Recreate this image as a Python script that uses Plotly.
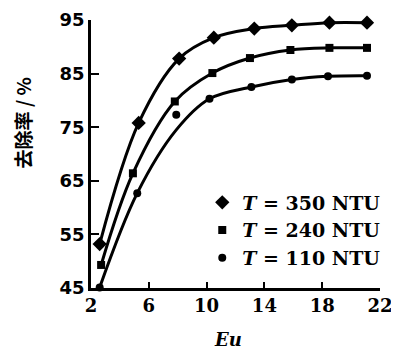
import plotly.graph_objects as go

# Data
eu_350 = [2.6, 5.3, 8.1, 10.5, 13.3, 15.9, 18.5, 21.1]
r_350 = [53.2, 75.8, 87.8, 91.7, 93.4, 94.0, 94.5, 94.5]

eu_240 = [2.7, 4.9, 7.8, 10.4, 13.0, 15.8, 18.5, 21.1]
r_240 = [49.3, 66.4, 79.8, 85.1, 87.9, 89.4, 89.8, 89.8]

eu_110 = [2.6, 5.2, 7.9, 10.2, 13.1, 15.9, 18.4, 21.1]
r_110 = [45.1, 62.7, 77.3, 80.3, 82.5, 83.9, 84.5, 84.6]
# fitted curve for the 110 NTU series (passes below the 7.9 point)
curve_110 = [45.1, 62.7, 74.5, 80.3, 82.5, 83.9, 84.5, 84.6]

x_ticks = [2, 6, 10, 14, 18, 22]
y_ticks = [45, 55, 65, 75, 85, 95]

labels = ["<i>T</i> = 350 NTU", "<i>T</i> = 240 NTU", "<i>T</i> = 110 NTU"]

fig = go.Figure()

line_style = dict(color="black", width=3, shape="spline", smoothing=1.0)

# curves
for xs, ys in [(eu_350, r_350), (eu_240, r_240), (eu_110, curve_110)]:
    fig.add_trace(go.Scatter(x=xs, y=ys, mode="lines", line=line_style,
                             showlegend=False, hoverinfo="skip", cliponaxis=False))

# markers
for xs, ys, sym, size, name, grp in [
    (eu_350, r_350, "diamond", 11, labels[0], "a"),
    (eu_240, r_240, "square", 8, labels[1], "b"),
    (eu_110, r_110, "circle", 8, labels[2], "c"),
]:
    fig.add_trace(go.Scatter(x=xs, y=ys, mode="markers", name=name, legendgroup=grp,
                             marker=dict(symbol=sym, size=size, color="black"),
                             cliponaxis=False))

# page body has an 8px margin, so the figure is 8px smaller and offsets reduced
fig.update_layout(
    width=391, height=344,
    margin=dict(l=83, r=19, t=12, b=64, autoexpand=False),
    paper_bgcolor="white", plot_bgcolor="white",
    showlegend=True,
    legend=dict(x=0.385, y=0.39, xanchor="left", yanchor="top",
                bgcolor="rgba(0,0,0,0)", tracegroupgap=0,
                font=dict(family="DejaVu Serif", size=19, color="black", weight="bold"),
                itemwidth=30),
    xaxis=dict(range=[2, 22], tickvals=x_ticks, ticks="inside", ticklen=6, tickwidth=2,
               tickcolor="black", showline=True, linecolor="black", linewidth=2.5,
               showgrid=False, zeroline=False, automargin=False,
               tickfont=dict(family="DejaVu Serif", size=18, color="black", weight="bold")),
    yaxis=dict(range=[45, 95], tickvals=y_ticks, ticks="inside", ticklen=8, tickwidth=2,
               tickcolor="black", showline=True, linecolor="black", linewidth=2.5,
               showgrid=False, zeroline=False, automargin=False,
               tickfont=dict(family="DejaVu Sans", size=18, color="black", weight="bold")),
    annotations=[
        dict(text="去除率 / %", textangle=-90, x=-0.237, y=0.616, xref="paper", yref="paper",
             showarrow=False, xanchor="center", yanchor="middle",
             font=dict(family="Noto Sans CJK SC", size=19, color="black", weight="bold")),
        dict(text="<i>Eu</i>", x=0.474, y=-0.194, xref="paper", yref="paper",
             showarrow=False, xanchor="center", yanchor="middle",
             font=dict(family="DejaVu Serif", size=18, color="black", weight="bold")),
    ],
)

fig.write_html("out.html")
